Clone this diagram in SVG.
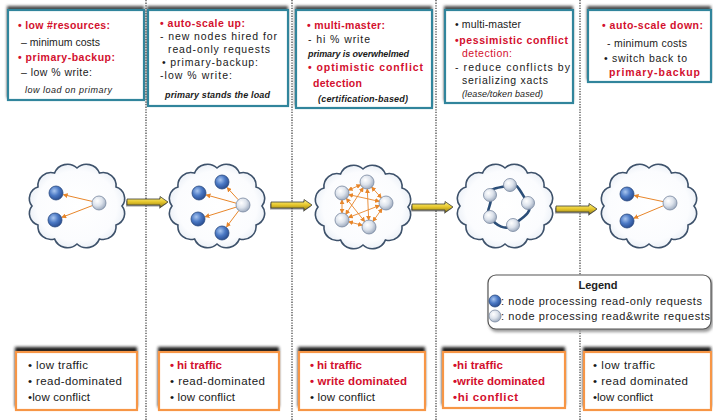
<svg xmlns="http://www.w3.org/2000/svg" width="713" height="420" viewBox="0 0 713 420">
  <defs>
    <style>
      .t{font-family:"Liberation Sans",Arial,sans-serif;font-size:10.5px;fill:#1a1a1a}
      .r{fill:#d3102e;font-weight:bold}
      .rn{fill:#d3102e}
      .i{font-style:italic;font-size:9px}
      .bi{font-style:italic;font-weight:bold;font-size:9px}
      .bt{font-size:11.5px}
      .lg{font-size:11px;fill:#222}
      .sep{stroke:#4a4a4a;stroke-width:1.3;stroke-dasharray:1.3 1.3;fill:none}
      .tbox{fill:#fff;stroke:#31859c;stroke-width:2.2}
      .bbox{fill:#fff;stroke:#f79646;stroke-width:2.2}
      .shT{fill:#4a4a4a;filter:url(#blur)}
      .shB{fill:#1a1a1a;filter:url(#blur)}
      .cloud{fill:url(#cloudG);stroke:#3e526b;stroke-width:1.6}
      .bn{fill:url(#blueG);stroke:#2a4a80;stroke-width:0.8}
      .gn{fill:url(#grayG);stroke:#7888a0;stroke-width:0.8}
      .ol{stroke:#e8862a;stroke-width:1;fill:none;marker-end:url(#oarr)}
      .ml{stroke:#e8862a;stroke-width:0.9;fill:none;marker-end:url(#oarr);marker-start:url(#oarrS)}
      .ring{fill:none;stroke:#2b4e78;stroke-width:2.6}
      .ya{fill:url(#yG);stroke:#3d3d33;stroke-width:0.8}
    </style>
    <filter id="blur" x="-10%" y="-20%" width="120%" height="140%">
      <feGaussianBlur stdDeviation="1.4"/>
    </filter>
    <radialGradient id="cloudG" cx="0.5" cy="0.5" r="0.6">
      <stop offset="0" stop-color="#ffffff"/>
      <stop offset="0.7" stop-color="#fbfcfe"/>
      <stop offset="1" stop-color="#dfe7f1"/>
    </radialGradient>
    <radialGradient id="blueG" cx="0.38" cy="0.35" r="0.7">
      <stop offset="0" stop-color="#a9c6f0"/>
      <stop offset="0.5" stop-color="#4a78c4"/>
      <stop offset="1" stop-color="#26498c"/>
    </radialGradient>
    <radialGradient id="grayG" cx="0.38" cy="0.35" r="0.7">
      <stop offset="0" stop-color="#ffffff"/>
      <stop offset="0.5" stop-color="#dde3ec"/>
      <stop offset="1" stop-color="#98a6bb"/>
    </radialGradient>
    <linearGradient id="yG" x1="0" y1="0" x2="0" y2="1">
      <stop offset="0" stop-color="#fff58a"/>
      <stop offset="0.5" stop-color="#e6c62a"/>
      <stop offset="1" stop-color="#8d7a1c"/>
    </linearGradient>
    <marker id="oarr" viewBox="0 0 6 6" refX="5" refY="3" markerWidth="5" markerHeight="5" markerUnits="userSpaceOnUse" orient="auto">
      <path d="M0,0 L6,3 L0,6 z" fill="#e8862a"/>
    </marker>
    <marker id="oarrS" viewBox="0 0 6 6" refX="1" refY="3" markerWidth="5" markerHeight="5" markerUnits="userSpaceOnUse" orient="auto">
      <path d="M6,0 L0,3 L6,6 z" fill="#e8862a"/>
    </marker>
    <path id="cloudShape" class="cloud" d="M0,-38 A14,14 0 0 1 22.5,-32.9 A13,13 0 0 1 39,-19 A12,12 0 0 1 45,0 A12,12 0 0 1 39,19 A13,13 0 0 1 22.5,32.9 A14,14 0 0 1 0,38 A14,14 0 0 1 -22.5,32.9 A13,13 0 0 1 -39,19 A12,12 0 0 1 -45,0 A12,12 0 0 1 -39,-19 A13,13 0 0 1 -22.5,-32.9 A14,14 0 0 1 0,-38 Z"/>
    <g id="yArrow">
      <path d="M0,-3 H33 V-5.5 L41,0 L33,5.5 V3 H0 Z" transform="translate(-1,1.6)" fill="#555" opacity="0.6"/>
      <path class="ya" d="M0,-3 H33 V-5.5 L41,0 L33,5.5 V3 H0 Z"/>
    </g>
  </defs>

  <rect width="713" height="420" fill="#ffffff"/>

  <!-- phase separators -->
  <g id="separators">
    <line class="sep" x1="146" y1="0" x2="146" y2="420"/>
    <line class="sep" x1="292" y1="0" x2="292" y2="420"/>
    <line class="sep" x1="436" y1="0" x2="436" y2="420"/>
    <line class="sep" x1="580" y1="0" x2="580" y2="420"/>
  </g>

  <!-- strategy boxes -->
  <g id="top1">
    <rect class="shT" x="7" y="6" width="137" height="92"/>
    <rect class="tbox" x="8" y="10" width="136" height="90"/>
    <text class="t r" x="18" y="29" font-size="11" textLength="92">• low #resources:</text>
    <text class="t" x="21" y="46" textLength="79">– minimum costs</text>
    <text class="t r" x="18" y="61" font-size="11" textLength="97">• primary-backup:</text>
    <text class="t" x="21" y="76" textLength="71">– low % write:</text>
    <text class="t i" x="25" y="93" textLength="87">low load on primary</text>
  </g>
  <g id="top2">
    <rect class="shT" x="147" y="6" width="141" height="98"/>
    <rect class="tbox" x="148" y="10" width="140" height="96"/>
    <text class="t r" x="160" y="27" font-size="11" textLength="85">• auto-scale up:</text>
    <text class="t" x="160" y="40" textLength="117">- new nodes hired for</text>
    <text class="t" x="168" y="53" textLength="102">read-only requests</text>
    <text class="t" x="162" y="66" textLength="96">• primary-backup:</text>
    <text class="t" x="160" y="79" textLength="72">-low % write:</text>
    <text class="t bi" x="165" y="98" textLength="105">primary stands the load</text>
  </g>
  <g id="top3">
    <rect class="shT" x="295" y="6" width="137" height="100"/>
    <rect class="tbox" x="296" y="10" width="136" height="98"/>
    <text class="t r" x="307" y="29" font-size="11" textLength="78">• multi-master:</text>
    <text class="t" x="308" y="43" textLength="62">- hi % write</text>
    <text class="t bi" x="308" y="57" font-size="8.6" textLength="101">primary is overwhelmed</text>
    <text class="t r" x="308" y="71" font-size="11" textLength="115">• optimistic conflict</text>
    <text class="t r" x="313" y="87" font-size="11" textLength="49">detection</text>
    <text class="t bi" x="318" y="102" textLength="90">(certification-based)</text>
  </g>
  <g id="top4">
    <rect class="shT" x="444" y="6" width="129" height="95"/>
    <rect class="tbox" x="445" y="10" width="128" height="93"/>
    <text class="t" x="455" y="28" textLength="66">• multi-master</text>
    <text class="t r" x="455" y="44" font-size="11" textLength="113">•pessimistic conflict</text>
    <text class="t rn" x="462" y="57" textLength="50">detection:</text>
    <text class="t" x="455" y="71" textLength="115">- reduce conflicts by</text>
    <text class="t" x="462" y="84" textLength="86">serializing xacts</text>
    <text class="t i" x="462" y="97" textLength="81">(lease/token based)</text>
  </g>
  <g id="top5">
    <rect class="shT" x="587" y="6" width="124" height="74"/>
    <rect class="tbox" x="588" y="10" width="123" height="72"/>
    <text class="t r" x="602" y="29" font-size="11" textLength="101">•  auto-scale down:</text>
    <text class="t" x="607" y="47" textLength="80">- minimum costs</text>
    <text class="t" x="604" y="62" textLength="83">• switch back to</text>
    <text class="t r" x="609" y="76" font-size="11" textLength="91">primary-backup</text>
  </g>

  <!-- clusters -->
  <g id="cloud1">
    <use href="#cloudShape" transform="translate(77,206)"/>
    <line class="ol" x1="92.2" y1="201.4" x2="63.5" y2="194.7"/>
    <line class="ol" x1="92.5" y1="205.5" x2="62" y2="217.3"/>
    <circle class="bn" cx="56" cy="193" r="7"/>
    <circle class="bn" cx="55" cy="220" r="7"/>
    <circle class="gn" cx="99" cy="203" r="7"/>
  </g>
  <g id="cloud2">
    <use href="#cloudShape" transform="translate(217,206)"/>
    <line class="ol" x1="236.2" y1="203.2" x2="206.3" y2="194.9"/>
    <line class="ol" x1="236.3" y1="207.1" x2="205.2" y2="216.8"/>
    <line class="ol" x1="238.3" y1="199.8" x2="227.2" y2="187.7"/>
    <line class="ol" x1="238.8" y1="210.6" x2="226.6" y2="226.8"/>
    <circle class="bn" cx="199" cy="193" r="7"/>
    <circle class="bn" cx="198" cy="219" r="7"/>
    <circle class="bn" cx="222" cy="182" r="7"/>
    <circle class="bn" cx="222" cy="233" r="7"/>
    <circle class="gn" cx="243" cy="205" r="7"/>
  </g>
  <g id="cloud3">
    <use href="#cloudShape" transform="translate(363,207)"/>
    <line class="ml" x1="360.6" y1="184.8" x2="348.4" y2="190.2"/>
    <line class="ml" x1="371.7" y1="187.2" x2="381.3" y2="197.8"/>
    <line class="ml" x1="363.2" y1="187.8" x2="345.8" y2="214.2"/>
    <line class="ml" x1="367.3" y1="189" x2="368.7" y2="220"/>
    <line class="ml" x1="348.8" y1="194.6" x2="379.2" y2="201.4"/>
    <line class="ml" x1="342" y1="200" x2="342" y2="213"/>
    <line class="ml" x1="346.4" y1="198.5" x2="364.6" y2="221.5"/>
    <line class="ml" x1="379.5" y1="205.5" x2="348.5" y2="217.5"/>
    <line class="ml" x1="382" y1="208.7" x2="373" y2="221.3"/>
    <line class="ml" x1="348.8" y1="221.8" x2="362.2" y2="225.2"/>
    <circle class="gn" cx="367" cy="182" r="7"/>
    <circle class="gn" cx="342" cy="193" r="7"/>
    <circle class="gn" cx="386" cy="203" r="7"/>
    <circle class="gn" cx="342" cy="220" r="7"/>
    <circle class="gn" cx="369" cy="227" r="7"/>
  </g>
  <g id="cloud4">
    <use href="#cloudShape" transform="translate(505,206)"/>
    <path class="ring" d="M510,185 C518,182 520,192 528,203 C534,212 522,218 513,225 C506,231 496,226 490,217 C484,210 494,204 490,195 C487,187 502,188 510,185 Z"/>
    <circle class="gn" cx="510" cy="185" r="6.5"/>
    <circle class="gn" cx="490" cy="195" r="6.5"/>
    <circle class="gn" cx="528" cy="203" r="6.5"/>
    <circle class="gn" cx="490" cy="217" r="6.5"/>
    <circle class="gn" cx="513" cy="225" r="6.5"/>
  </g>
  <g id="cloud5">
    <use href="#cloudShape" transform="translate(649,206)"/>
    <line class="ol" x1="663.1" y1="201.6" x2="634.4" y2="195.5"/>
    <line class="ol" x1="663.5" y1="205.7" x2="634" y2="218.1"/>
    <circle class="bn" cx="627" cy="194" r="7"/>
    <circle class="bn" cx="627" cy="221" r="7"/>
    <circle class="gn" cx="670" cy="203" r="7"/>
  </g>

  <!-- transitions between phases -->
  <g id="connectors">
    <use href="#yArrow" transform="translate(127,202)"/>
    <use href="#yArrow" transform="translate(271,205)"/>
    <use href="#yArrow" transform="translate(412,207)"/>
    <use href="#yArrow" transform="translate(556,209)"/>
  </g>

  <!-- legend -->
  <g id="legend">
    <rect x="489" y="277" width="224" height="55" rx="8" fill="#9a9a9a" filter="url(#blur)"/>
    <rect x="488" y="275" width="223" height="54" rx="8" fill="#fff" stroke="#555" stroke-width="1.2"/>
    <text class="t lg" x="598" y="289" text-anchor="middle" font-weight="bold">Legend</text>
    <circle class="bn" cx="495" cy="301" r="6"/>
    <text class="t lg" x="501" y="305" textLength="201">: node processing read-only requests</text>
    <circle class="gn" cx="495" cy="316" r="6"/>
    <text class="t lg" x="501" y="320" textLength="209">: node processing read&amp;write requests</text>
  </g>

  <!-- workload boxes -->
  <g id="bot1">
    <rect class="shB" x="15" y="347" width="122" height="60"/>
    <rect class="bbox" x="16" y="352" width="121" height="58"/>
    <text class="t bt" x="28" y="369" textLength="60">• low traffic</text>
    <text class="t bt" x="28" y="385" textLength="94">• read-dominated</text>
    <text class="t bt" x="28" y="401" textLength="62">•low conflict</text>
  </g>
  <g id="bot2">
    <rect class="shB" x="158" y="347" width="121" height="60"/>
    <rect class="bbox" x="159" y="352" width="120" height="58"/>
    <text class="t bt r" x="170" y="369" textLength="52">• hi traffic</text>
    <text class="t bt" x="170" y="385" textLength="95">• read-dominated</text>
    <text class="t bt" x="170" y="401" textLength="65">• low conflict</text>
  </g>
  <g id="bot3">
    <rect class="shB" x="298" y="347" width="127" height="60"/>
    <rect class="bbox" x="299" y="352" width="126" height="58"/>
    <text class="t bt r" x="310" y="369" textLength="52">• hi traffic</text>
    <text class="t bt r" x="310" y="385" textLength="97">• write dominated</text>
    <text class="t bt" x="310" y="401" textLength="65">• low conflict</text>
  </g>
  <g id="bot4">
    <rect class="shB" x="442" y="347" width="123" height="58"/>
    <rect class="bbox" x="443" y="352" width="122" height="56"/>
    <text class="t bt r" x="453" y="369" textLength="50">•hi traffic</text>
    <text class="t bt r" x="453" y="385" textLength="92">•write dominated</text>
    <text class="t bt r" x="453" y="401" textLength="65">•hi conflict</text>
  </g>
  <g id="bot5">
    <rect class="shB" x="583" y="347" width="128" height="60"/>
    <rect class="bbox" x="584" y="352" width="127" height="58"/>
    <text class="t bt" x="593" y="369" textLength="62">• low traffic</text>
    <text class="t bt" x="593" y="385" textLength="95">• read dominated</text>
    <text class="t bt" x="593" y="401" textLength="60">•low conflict</text>
  </g>
</svg>
